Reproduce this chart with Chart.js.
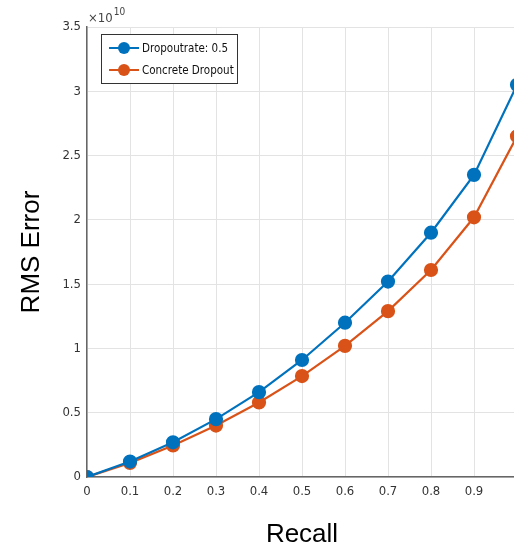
<!DOCTYPE html>
<html>
<head>
<meta charset="utf-8">
<script src="https://cdn.jsdelivr.net/npm/chart.js@4/dist/chart.umd.min.js"></script>
<style>
  html, body { margin: 0; padding: 0; background: #fff; overflow: hidden; }
  #wrap { width: 530px; height: 550px; }
</style>
</head>
<body>
<div id="wrap"><canvas id="rmsChart"></canvas></div>
<script>
const recall = [0, 0.1, 0.2, 0.3, 0.4, 0.5, 0.6, 0.7, 0.8, 0.9, 1.0];
const dropoutRate = [0.0, 0.12, 0.27, 0.45, 0.66, 0.91, 1.20, 1.52, 1.90, 2.35, 3.05];
const concreteDropout = [0.0, 0.11, 0.245, 0.40, 0.58, 0.785, 1.02, 1.29, 1.61, 2.02, 2.65];
const seriesNames = ['Dropoutrate: 0.5', 'Concrete Dropout'];
const seriesColors = ['#0072BD', '#D95319'];

const narrow = "'DejaVu Sans Condensed', 'Liberation Sans Narrow', 'Liberation Sans', Arial";
const tickFont = { family: narrow, size: 13 };

const toPoints = (ys) => recall.map((x, i) => ({ x: x, y: ys[i] }));

// draws the x10^10 exponent and the boxed legend inside the axes
const extras = {
    id: 'extras',
    afterDraw(chart) {
        const ctx = chart.ctx;
        const area = chart.chartArea;
        ctx.save();
        ctx.fillStyle = '#444';
        ctx.font = '13px ' + narrow;
        ctx.textBaseline = 'alphabetic';
        const base = '\u00d710';
        ctx.fillText(base, area.left + 1, area.top - 5);
        const w = ctx.measureText(base).width;
        ctx.font = '10px ' + narrow;
        ctx.fillText('10', area.left + 2 + w, area.top - 12);

        const bx = 101, by = 34, bw = 136, bh = 49;
        ctx.fillStyle = '#fff';
        ctx.fillRect(bx, by, bw, bh);
        ctx.strokeStyle = '#333';
        ctx.lineWidth = 1;
        ctx.strokeRect(bx + 0.5, by + 0.5, bw, bh);
        ctx.font = '11.5px ' + narrow;
        ctx.textBaseline = 'middle';
        seriesNames.forEach((name, i) => {
            const y = by + 14 + i * 22;
            ctx.strokeStyle = seriesColors[i];
            ctx.lineWidth = 2;
            ctx.beginPath();
            ctx.moveTo(bx + 8, y);
            ctx.lineTo(bx + 38, y);
            ctx.stroke();
            ctx.fillStyle = seriesColors[i];
            ctx.beginPath();
            ctx.arc(bx + 23, y, 6, 0, Math.PI * 2);
            ctx.fill();
            ctx.fillStyle = '#111';
            ctx.fillText(name, bx + 41, y + 1);
        });
        ctx.restore();
    }
};

new Chart(document.getElementById('rmsChart').getContext('2d'), {
    type: 'line',
    data: {
        datasets: [
            {
                label: seriesNames[0],
                data: toPoints(dropoutRate),
                borderColor: seriesColors[0],
                backgroundColor: seriesColors[0],
                borderWidth: 2.2,
                pointRadius: 6,
                pointHoverRadius: 6
            },
            {
                label: seriesNames[1],
                data: toPoints(concreteDropout),
                borderColor: seriesColors[1],
                backgroundColor: seriesColors[1],
                borderWidth: 2.2,
                pointRadius: 6,
                pointHoverRadius: 6
            }
        ]
    },
    options: {
        responsive: true,
        maintainAspectRatio: false,
        animation: false,
        layout: { padding: { top: 27, right: 13, left: 0, bottom: 0 } },
        plugins: {
            legend: { display: false },
            tooltip: { enabled: false }
        },
        scales: {
            x: {
                type: 'linear',
                min: 0,
                max: 1,
                border: { color: '#666', width: 1.5 },
                grid: { color: '#e3e3e3', drawTicks: false },
                ticks: {
                    stepSize: 0.1,
                    autoSkip: false,
                    maxRotation: 0,
                    padding: 7,
                    color: '#333',
                    font: tickFont,
                    callback: (v) => String(Math.round(v * 10) / 10)
                },
                title: {
                    display: true,
                    text: 'Recall',
                    color: '#000',
                    font: { family: "'Liberation Sans', Arial", size: 26 },
                    padding: { top: 12, bottom: 0 }
                },
                afterFit: (scale) => { scale.height = 73; }
            },
            y: {
                min: 0,
                max: 3.5,
                border: { color: '#666', width: 1.5 },
                grid: { color: '#e3e3e3', drawTicks: false },
                ticks: {
                    stepSize: 0.5,
                    padding: 6,
                    color: '#333',
                    font: tickFont,
                    callback: (v) => String(Math.round(v * 10) / 10)
                },
                title: {
                    display: true,
                    text: 'RMS Error',
                    color: '#000',
                    font: { family: "'Liberation Sans', Arial", size: 26 },
                    padding: { top: 16, bottom: 0 }
                },
                afterFit: (scale) => { scale.width = 87; }
            }
        }
    },
    plugins: [extras]
});
</script>
</body>
</html>
